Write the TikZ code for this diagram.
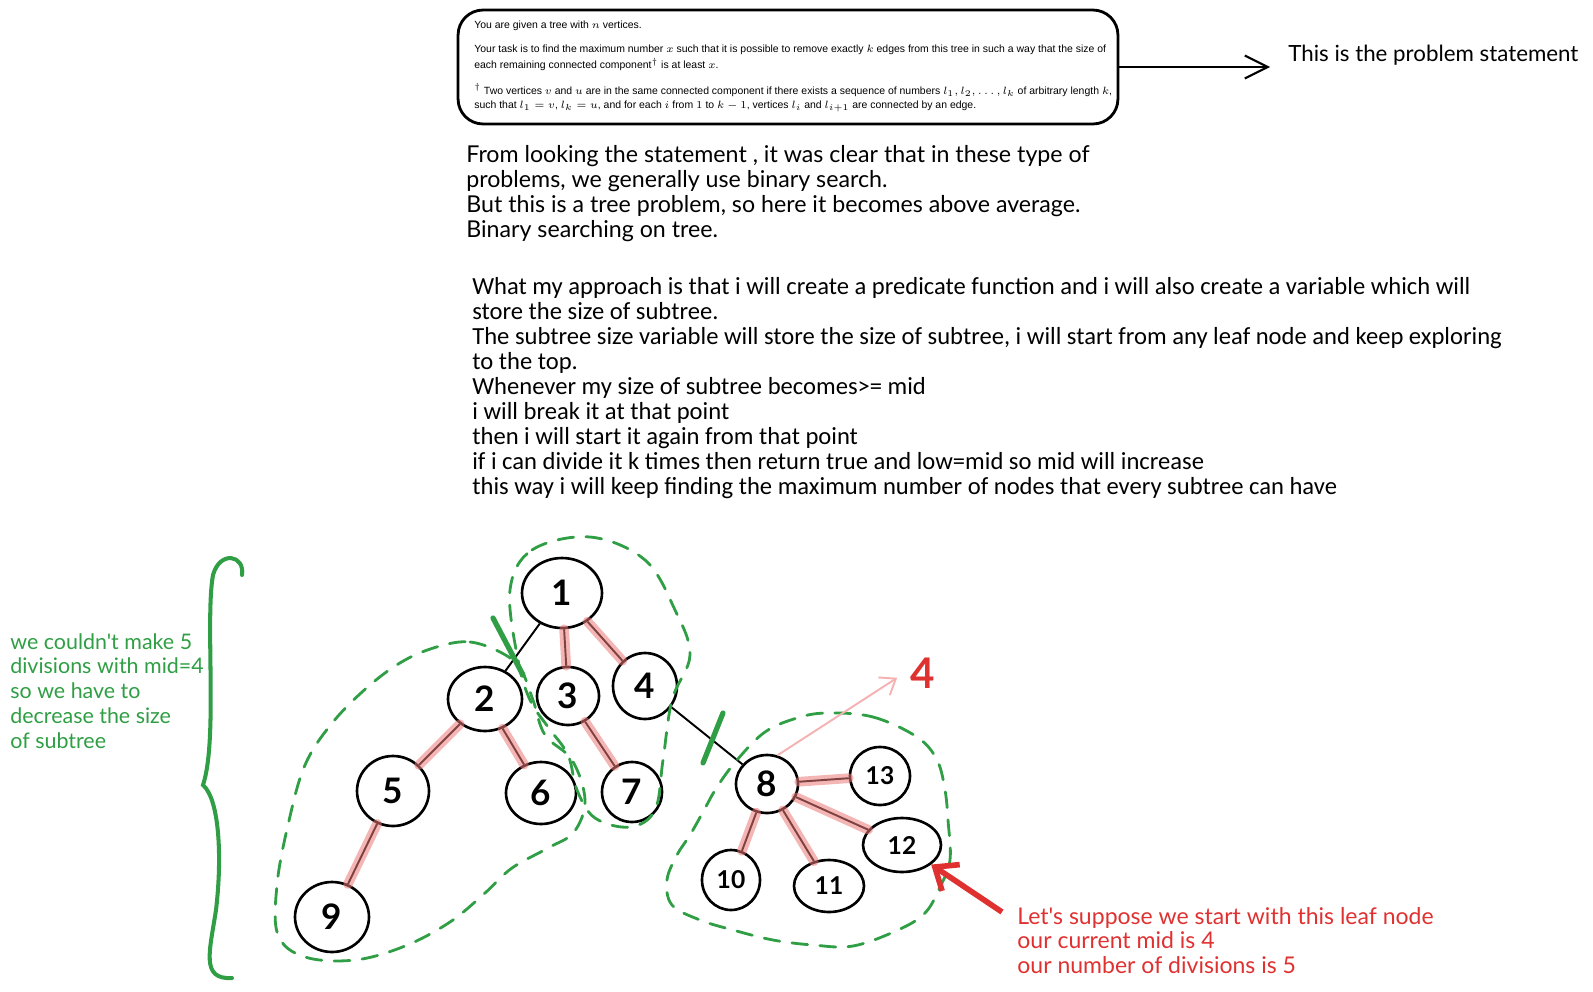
\documentclass[tikz,border=0pt]{standalone}
\usepackage{fontspec}
\newfontfamily\handfont{Lato}
\newfontfamily\narrowfont{Carlito}
\newfontfamily\statfont{Liberation Sans}
\usetikzlibrary{arrows.meta,shapes.geometric}
\definecolor{exgreen}{RGB}{47,158,68}
\definecolor{exred}{RGB}{224,49,49}
\definecolor{hlpink}{RGB}{235,120,120}
\definecolor{arrowpink}{RGB}{245,178,178}

\tikzset{
  stmtbox/.style={draw, line width=1.6pt, rounded corners=0.5cm, minimum width=13.2cm, minimum height=2.28cm},
  stmttext/.style={anchor=base west, inner sep=0pt, font=\statfont\fontsize{5.95}{7}\selectfont},
  notetext/.style={anchor=base west, inner sep=0pt, font=\handfont\fontsize{13.2}{14}\selectfont},
  plantext/.style={anchor=base west, inner sep=0pt, font=\narrowfont\fontsize{14}{14}\selectfont},
  greentext/.style={notetext, text=exgreen, font=\handfont\fontsize{12.2}{14}\selectfont},
  redtext/.style={notetext, text=exred, font=\handfont\fontsize{13.1}{14}\selectfont},
  tnode/.style 2 args={ellipse, draw, line width=1.5pt, inner sep=0pt, minimum width=#1cm, minimum height=#2cm, font=\handfont\bfseries\fontsize{20}{20}\selectfont},
  twodig/.style={font=\handfont\bfseries\fontsize{14}{14}\selectfont},
  tedge/.style={line width=1.1pt},
  hledge/.style={line width=5.5pt, draw=hlpink, opacity=0.55, line cap=round},
  groupline/.style={draw=exgreen, line width=1.6pt, dash pattern=on 9pt off 7pt, line cap=round},
  cutmark/.style={draw=exgreen, line width=3pt, line cap=round},
  bracestroke/.style={draw=exgreen, line width=2.3pt, line cap=round},
  blkarrow/.style={line width=1.2pt, -{Straight Barb[length=13pt,width=13pt]}},
  pinkarrow/.style={draw=arrowpink, line width=1.1pt, -{Straight Barb[length=8pt,width=12pt]}},
  redarrow/.style={draw=exred, line width=3.2pt, -{Straight Barb[length=11pt,width=18pt]}},
}

\begin{document}
\begin{tikzpicture}[x=0.02cm,y=-0.02cm]
\useasboundingbox (0,0) rectangle (1593,991);

% problem statement box
\node[stmtbox] (stmt) at (788,67) {};
\foreach \yy/\ln [count=\i] in {28/{You are given a tree with $n$ vertices.},
  52.5/{Your task is to find the maximum number $x$ such that it is possible to remove exactly $k$ edges from this tree in such a way that the size of},
  68.5/{each remaining connected component$^{\dagger}$ is at least $x$.},
  94/{$^{\dagger}$ Two vertices $v$ and $u$ are in the same connected component if there exists a sequence of numbers $l_1, l_2, \ldots, l_k$ of arbitrary length $k$,},
  108.5/{such that $l_1 = v$, $l_k = u$, and for each $i$ from $1$ to $k-1$, vertices $l_i$ and $l_{i+1}$ are connected by an edge.}}
  \node[stmttext] (stmtline\i) at (474,\yy) {\ln};

\node[notetext, font=\handfont\fontsize{12.7}{14}\selectfont] (stmtlabel) at (1288,61) {This is the problem statement};
\coordinate (stmttip) at (1270,67);
\draw[blkarrow] (stmt.east) -- (stmttip);

% notes
\foreach \ln [count=\i] in {{From looking the statement , it was clear that in these type of},
  {problems, we generally use binary search.},
  {But this is a tree problem, so here it becomes above average.},
  {Binary searching on tree.}}
  \node[notetext] (intro\i) at (466,{162+25*(\i-1)}) {\ln};

\foreach \ln [count=\i] in {{What my approach is that i will create a predicate function and i will also create a variable which will},
  {store the size of subtree.},
  {The subtree size variable will store the size of subtree, i will start from any leaf node and keep exploring},
  {to the top.},
  {Whenever my size of subtree becomes>= mid},
  {i will break it at that point},
  {then i will start it again from that point},
  {if i can divide it k times then return true and low=mid so mid will increase},
  {this way i will keep finding the maximum number of nodes that every subtree can have}}
  \node[plantext] (plan\i) at (472,{294+25*(\i-1)}) {\ln};

% tree
\node[tnode={1.6}{1.4}] (n1) at (562,593) {1};
\node[tnode={1.48}{1.28}] (n2) at (485,699) {2};
\node[tnode={1.24}{1.16}] (n3) at (568,696) {3};
\node[tnode={1.28}{1.32}] (n4) at (645,686) {4};
\node[tnode={1.44}{1.4}] (n5) at (393,791) {5};
\node[tnode={1.4}{1.24}] (n6) at (541,793) {6};
\node[tnode={1.2}{1.2}] (n7) at (632,792) {7};
\node[tnode={1.48}{1.4}] (n9) at (332,917) {9};
\node[tnode={1.24}{1.16}] (n8) at (767,784) {8};
\node[tnode={1.2}{1.16}, twodig] (n13) at (880,776) {13};
\node[tnode={1.56}{1.08}, twodig] (n12) at (902,845) {12};
\node[tnode={1.16}{1.2}, twodig] (n10) at (731,880) {10};
\node[tnode={1.4}{1.04}, twodig] (n11) at (829,886) {11};

\foreach \a/\b in {1/2,1/3,1/4,2/5,2/6,3/7,5/9,4/8,8/13,8/12,8/10,8/11}
  \draw[tedge] (n\a) -- (n\b);
\foreach \a/\b in {1/3,1/4,2/5,2/6,3/7,5/9,8/13,8/12,8/10,8/11}
  \draw[hledge] (n\a) -- (n\b);

% cuts
\draw[cutmark] (493,618) -- (523,675);
\draw[cutmark] (723,713) -- (703,763);

% groups
\draw[groupline] plot[smooth cycle, tension=0.6] coordinates {(510,590) (532,550) (590,537) (645,560) (675,610) (690,655) (672,700) (663,760) (655,810) (630,827) (595,818) (577,790) (568,755) (548,727) (530,700) (518,660)};
\draw[groupline] plot[smooth cycle, tension=0.6] coordinates {(440,646) (470,642) (500,652) (520,668) (533,700) (545,735) (572,760) (585,800) (574,832) (548,848) (512,868) (485,893) (450,922) (405,946) (355,960) (305,957) (278,935) (277,885) (288,825) (305,765) (333,722) (370,685) (405,660)};
\draw[groupline] plot[smooth cycle, tension=0.6] coordinates {(827,713) (873,717) (917,737) (937,760) (945,790) (948,820) (950,860) (940,887) (925,913) (898,930) (853,946) (813,945) (773,940) (733,930) (700,920) (672,905) (667,880) (677,855) (690,835) (703,812) (717,787) (737,760) (765,732) (797,718)};

% mid label
\node[text=exred, font=\handfont\bfseries\fontsize{24}{24}\selectfont] (four) at (923,673) {4};
\draw[pinkarrow, shorten >=5pt] (n8.70) -- (four.west);

% leaf note
\foreach \ln [count=\i] in {{Let's suppose we start with this leaf node},
  {our current mid is 4},
  {our number of divisions is 5}}
  \node[redtext] (leaf\i) at (1017,{924+24.5*(\i-1)}) {\ln};
\coordinate (redtail) at (1002,912);
\draw[redarrow] (redtail) -- (n12);

% left brace
\draw[bracestroke] (242,575) .. controls (245,555) and (220,550) .. (213,575)
  .. controls (205,620) and (218,740) .. (203,785)
  .. controls (220,800) and (222,860) .. (216,910)
  .. controls (210,950) and (200,980) .. (232,978);
\foreach \ln [count=\i] in {{we couldn't make 5},
  {divisions with mid=4},
  {so we have to},
  {decrease the size},
  {of subtree}}
  \node[greentext] (fail\i) at (10,{649+24.8*(\i-1)}) {\ln};
\end{tikzpicture}
\end{document}
